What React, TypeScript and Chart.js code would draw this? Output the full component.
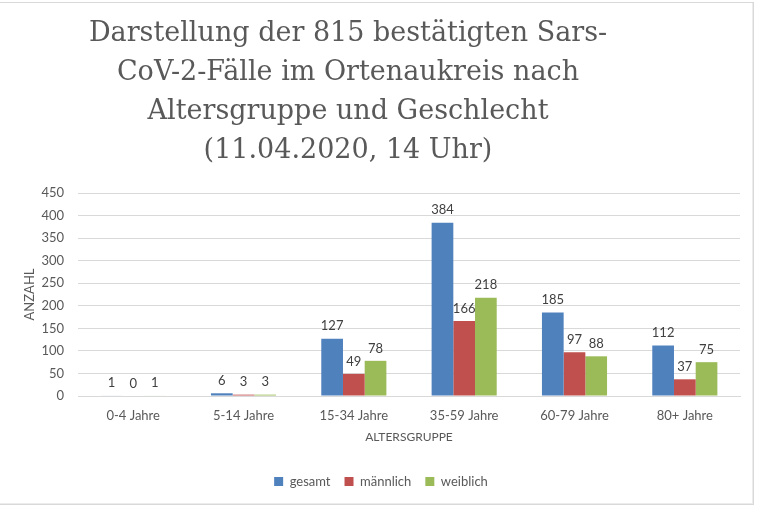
import React, { useEffect, useRef } from "react";
import { Chart, registerables } from "chart.js";

Chart.register(...registerables);

const titleLines = [
  "Darstellung der 815 bestätigten Sars-",
  "CoV-2-Fälle im Ortenaukreis nach",
  "Altersgruppe und Geschlecht",
  "(11.04.2020, 14 Uhr)",
];
const categories = ["0-4 Jahre", "5-14 Jahre", "15-34 Jahre", "35-59 Jahre", "60-79 Jahre", "80+ Jahre"];
const gesamt = [1, 6, 127, 384, 185, 112];
const maennlich = [0, 3, 49, 166, 97, 37];
const weiblich = [1, 3, 78, 218, 88, 75];
const seriesNames = ["gesamt", "männlich", "weiblich"];
const seriesColors = ["#4F81BD", "#C0504D", "#9BBB59"];
const yTitle = "ANZAHL";
const xTitle = "ALTERSGRUPPE";

const FONT = "Lato, 'Open Sans', sans-serif";

const titlePlugin = {
  id: "customTitle",
  afterDraw(chart: any) {
    const ctx = chart.ctx;
    ctx.save();
    ctx.font = "27px 'DejaVu Serif'";
    ctx.fillStyle = "#595959";
    ctx.textAlign = "center";
    ctx.textBaseline = "alphabetic";
    const baselines = [41, 80, 119, 158];
    titleLines.forEach((l, i) => ctx.fillText(l, 348, baselines[i]));
    ctx.restore();
  },
};

const labelPlugin = {
  id: "valueLabels",
  afterDatasetsDraw(chart: any) {
    const ctx = chart.ctx;
    ctx.save();
    ctx.font = "13px " + FONT;
    ctx.fillStyle = "#404040";
    ctx.textAlign = "center";
    ctx.textBaseline = "bottom";
    chart.data.datasets.forEach((ds: any, i: number) => {
      const meta = chart.getDatasetMeta(i);
      meta.data.forEach((el: any, j: number) => {
        ctx.fillText(String(ds.data[j]), el.x, el.y - 6);
      });
    });
    ctx.restore();
  },
};

export default function App() {
  const ref = useRef<HTMLCanvasElement>(null);
  useEffect(() => {
    const chart = new Chart(ref.current!, {
      type: "bar",
      data: {
        labels: categories,
        datasets: [gesamt, maennlich, weiblich].map((d, i) => ({
          label: seriesNames[i],
          data: d,
          backgroundColor: seriesColors[i],
          barPercentage: 1,
          categoryPercentage: 0.59,
        })),
      },
      options: {
        animation: false,
        responsive: false,
        maintainAspectRatio: false,
        layout: { padding: { top: 193, left: 22, right: 29, bottom: 11 } },
        plugins: {
          title: { display: false },
          tooltip: { enabled: false },
          legend: {
            position: "bottom",
            labels: {
              boxWidth: 9,
              boxHeight: 9,
              padding: 14,
              color: "#595959",
              font: { family: FONT, size: 13 },
            },
          },
        },
        scales: {
          x: {
            afterFit: (scale: any) => {
              scale.paddingLeft = 0;
              scale.paddingRight = 0;
            },
            grid: { display: false, drawTicks: false },
            border: { display: true, color: "#d9d9d9" },
            ticks: { color: "#595959", font: { family: FONT, size: 13 }, padding: 12, maxRotation: 0 },
            title: {
              display: true,
              text: xTitle,
              color: "#595959",
              font: { family: FONT, size: 12 },
              padding: { top: -6, bottom: 17 },
            },
          },
          y: {
            afterFit: (scale: any) => {
              scale.width = 56;
            },
            min: 0,
            max: 450,
            ticks: { stepSize: 50, color: "#595959", font: { family: FONT, size: 13 }, padding: 14 },
            grid: { color: "#d9d9d9", drawTicks: false },
            border: { display: false },
            title: {
              display: true,
              text: yTitle,
              color: "#595959",
              font: { family: FONT, size: 13 },
              padding: { top: 0, bottom: 4 },
            },
          },
        },
      },
      plugins: [titlePlugin, labelPlugin],
    });
    return () => chart.destroy();
  }, []);
  return (
    <div style={{ position: "absolute", left: 0, top: 0, width: 769, height: 509, background: "#fff" }}>
      <div
        style={{
          position: "absolute",
          left: -1,
          top: 2,
          width: 753,
          height: 501,
          border: "1px solid #d9d9d9",
          boxShadow: "inset -1px -1px 0 #ececec",
        }}
      />
      <canvas ref={ref} width={769} height={509} style={{ position: "absolute", left: 0, top: 0 }} />
    </div>
  );
}
